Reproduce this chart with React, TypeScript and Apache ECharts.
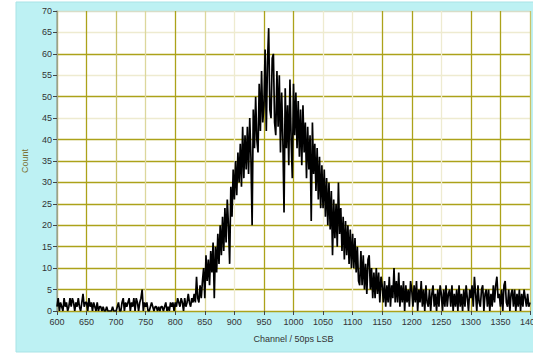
import React, { useEffect, useRef } from "react";
import * as echarts from "echarts";

// Histogram counts, one value every 2 channels, channel 600 .. 1400
const CHANNEL_START = 600;
const CHANNEL_STEP = 2;

const counts600 = [1,3,0,2,1,0,3,1,2,0,1,3,1,3,2,0,2,1,3,1,0,2,4,1,2];
const counts650 = [2,0,3,1,2,0,2,1,0,2,0,1,1,0,1,0,0,1,0,0,0,0,1,0,0];
const counts700 = [0,1,2,0,0,2,3,0,2,1,2,3,0,2,1,3,0,3,2,0,2,3,5,0,2];
const counts750 = [1,2,0,0,1,2,1,0,1,1,0,1,0,1,1,0,1,2,0,1,0,2,1,2,0];
const counts800 = [2,1,3,2,1,3,2,0,3,1,2,4,2,1,3,2,4,2,8,3,2,6,3,7,10];
const counts850 = [3,13,7,12,6,14,9,16,3,15,9,18,11,20,13,22,14,24,16,26,20,11,29,22,33];
const counts900 = [26,35,27,37,30,39,29,43,31,41,33,43,32,45,36,20,47,38,50,40,37,53,42,56,44];
const counts950 = [48,61,42,58,66,47,45,59,60,44,41,56,43,55,37,51,40,23,52,38,48,34,54,40,31];
const counts1000 = [53,41,51,38,49,36,47,34,48,37,44,31,43,33,41,21,44,32,39,28,38,26,36,24,34];
const counts1050 = [24,33,22,31,20,30,19,28,13,26,17,25,15,30,18,24,14,22,12,21,13,20,11,19,10];
const counts1100 = [18,10,17,9,15,7,6,14,6,13,5,11,4,12,13,5,10,3,9,3,10,4,9,2,8];
const counts1150 = [6,2,7,1,6,2,8,1,6,3,10,2,7,2,9,1,6,2,7,0,6,2,5,1,7];
const counts1200 = [5,1,6,2,7,0,5,2,7,1,5,0,6,2,1,5,0,4,6,1,4,0,5,1,6];
const counts1250 = [4,0,5,1,6,1,4,5,1,6,0,4,1,5,0,6,1,4,0,5,1,6,3,0,5];
const counts1300 = [3,6,1,8,4,0,6,2,1,5,6,0,4,5,1,5,0,4,1,6,2,6,8,3,4];
const counts1350 = [1,5,0,6,7,2,1,5,0,4,5,1,5,0,4,1,5,0,4,1,5,3,1,4,1];
const counts1400 = [2];

const allCounts = [
  ...counts600, ...counts650, ...counts700, ...counts750,
  ...counts800, ...counts850, ...counts900, ...counts950,
  ...counts1000, ...counts1050, ...counts1100, ...counts1150,
  ...counts1200, ...counts1250, ...counts1300, ...counts1350,
  ...counts1400,
];

const xTitle = "Channel / 50ps LSB";
const yTitle = "Count";

// grid line shades (strong olive through faint)
const S = "#aca21a";
const M = "#c9c26a";
const L = "#dcd79c";
const F = "#eeebd0";
// vertical lines at 600, 650, ... 1400
const xGridColors = [S, S, M, L, S, L, F, S, S, F, F, S, S, F, S, S, M];
// horizontal lines at 0, 5, ... 70
const yGridColors = [S, S, S, S, S, S, S, S, S, F, S, F, S, F, "#d8ddc8"];

export default function App() {
  const ref = useRef<HTMLDivElement>(null);

  useEffect(() => {
    document.body.style.margin = "0";
    if (!ref.current) return;
    const chart = echarts.init(ref.current, null, { renderer: "svg" });
    const data = allCounts.map((c, i) => [CHANNEL_START + i * CHANNEL_STEP, c]);
    const font = "Liberation Sans";
    const plain = (v: number) => String(v);
    chart.setOption({
      animation: false,
      backgroundColor: "#ffffff",
      graphic: [
        {
          type: "rect",
          z: -10,
          shape: { x: 16, y: 2, width: 520, height: 350 },
          style: { fill: "#bdf1f3", stroke: "#a9e3e6", lineWidth: 1 },
          silent: true,
        },
      ],
      grid: {
        left: 57,
        right: 3,
        top: 11,
        bottom: 43,
        show: true,
        backgroundColor: "#ffffff",
        borderWidth: 0,
        outerBoundsMode: "none",
        containLabel: false,
      },
      xAxis: {
        type: "value",
        min: 600,
        max: 1400,
        interval: 50,
        name: xTitle,
        nameLocation: "middle",
        nameGap: 23,
        nameTextStyle: { fontFamily: font, fontSize: 9, color: "#333333" },
        axisLine: { show: false },
        axisTick: { show: true, length: 4, lineStyle: { color: "#444" } },
        axisLabel: {
          fontFamily: font,
          fontSize: 9,
          color: "#333333",
          margin: 6,
          formatter: plain,
          hideOverlap: false,
        },
        splitLine: { show: true, lineStyle: { color: xGridColors, width: 1.3 } },
      },
      yAxis: {
        type: "value",
        min: 0,
        max: 70,
        interval: 5,
        name: yTitle,
        nameLocation: "middle",
        nameGap: 28,
        nameTextStyle: { fontFamily: font, fontSize: 9, color: "#7a6e30" },
        axisLine: { show: true, lineStyle: { color: "#9aa6a6", width: 1.5 } },
        axisTick: { show: true, length: 4, lineStyle: { color: "#444" } },
        axisLabel: { fontFamily: font, fontSize: 9, color: "#333333", margin: 5, formatter: plain },
        splitLine: { show: true, lineStyle: { color: yGridColors, width: 1.3 } },
      },
      series: [
        {
          type: "line",
          data,
          showSymbol: false,
          lineStyle: { color: "#000000", width: 1.7 },
          clip: true,
        },
      ],
    });
    return () => chart.dispose();
  }, []);

  return <div ref={ref} style={{ width: 533, height: 354 }} />;
}
